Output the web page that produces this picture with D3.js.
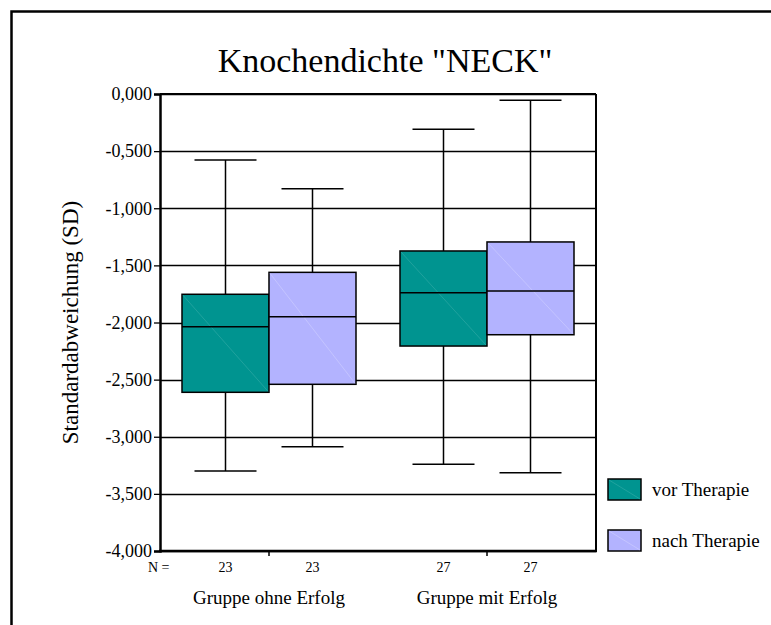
<!DOCTYPE html>
<html>
<head>
<meta charset="utf-8">
<script src="https://cdn.jsdelivr.net/npm/d3@7"></script>
<style>
  body { margin: 0; background: #fff; }
  svg text { font-family: "Liberation Serif", "DejaVu Serif", serif; fill: #000; }
</style>
</head>
<body>
<div id="chart"></div>
<script>
// data
var groups = ["Gruppe ohne Erfolg", "Gruppe mit Erfolg"];
var series = ["vor Therapie", "nach Therapie"];
var counts = [[23, 23], [27, 27]];
// [min, q1, median, q3, max] per group, per series
var boxStats = [
  [[-3.300, -2.611, -2.037, -1.753, -0.578], [-3.087, -2.541, -1.949, -1.561, -0.829]],
  [[-3.241, -2.206, -1.739, -1.374, -0.309], [-3.315, -2.107, -1.724, -1.295, -0.055]]
];
var yTicks = [0, -0.5, -1, -1.5, -2, -2.5, -3, -3.5, -4];
var colors = ["#009490", "#b3b3ff"];
var diagColors = ["#40b0ac", "#d4d4ff"];

(function() {
  var W = 771, H = 625;
  var serif = '"Liberation Serif", "DejaVu Serif", serif';
  var svg = d3.select("#chart").append("svg")
    .attr("width", W).attr("height", H)
    .style("font-family", serif);

  // outer frame (top and left edges only visible)
  svg.append("path")
    .attr("d", "M11.5," + H + "V11.5H" + W)
    .attr("fill", "none").attr("stroke", "#000").attr("stroke-width", 2.5);

  var pL = 160, pR = 596, pT = 94, pB = 551;

  var y = d3.scaleLinear().domain([-4, 0]).range([pB, pT]);
  var x = d3.scaleBand().domain(groups).range([pL, pR]);
  var boxW = 87;

  // title
  svg.append("text")
    .attr("x", 385).attr("y", 72)
    .attr("text-anchor", "middle")
    .style("font-size", "34px")
    .text('Knochendichte "NECK"');

  // gridlines
  svg.append("g").selectAll("line").data(yTicks).join("line")
    .attr("x1", pL).attr("x2", pR)
    .attr("y1", d => Math.round(y(d)) + 0.5).attr("y2", d => Math.round(y(d)) + 0.5)
    .attr("stroke", "#000").attr("stroke-width", 1.3);

  // y axis
  var fmt = d => d3.format(".3f")(d).replace(".", ",").replace("\u2212", "-");
  var yAxis = svg.append("g")
    .attr("transform", "translate(" + pL + ",0)")
    .call(d3.axisLeft(y).tickValues(yTicks).tickSize(6).tickPadding(2).tickFormat(fmt));
  yAxis.attr("font-family", serif);
  yAxis.select(".domain").attr("stroke-width", 2.5);
  yAxis.selectAll(".tick line").attr("stroke-width", 1.3);
  yAxis.selectAll(".tick text").style("font-size", "18px");

  // right and top edges of plot
  svg.append("line")
    .attr("x1", pR).attr("x2", pR).attr("y1", pT).attr("y2", pB)
    .attr("stroke", "#000").attr("stroke-width", 2);
  svg.append("line")
    .attr("x1", pL).attr("x2", pR).attr("y1", pT).attr("y2", pT)
    .attr("stroke", "#000").attr("stroke-width", 2);

  // boxes
  groups.forEach(function(g, gi) {
    var cx = x(g) + x.bandwidth() / 2;
    series.forEach(function(s, si) {
      var st = boxStats[gi][si];
      var x0 = si === 0 ? cx - boxW : cx;
      var mid = x0 + boxW / 2;
      var gg = svg.append("g");
      // whisker
      gg.append("line").attr("x1", mid).attr("x2", mid)
        .attr("y1", y(st[4])).attr("y2", y(st[0]))
        .attr("stroke", "#000").attr("stroke-width", 1.5);
      [st[0], st[4]].forEach(function(v) {
        gg.append("line").attr("x1", mid - 31).attr("x2", mid + 31)
          .attr("y1", y(v)).attr("y2", y(v))
          .attr("stroke", "#000").attr("stroke-width", 1.5);
      });
      gg.append("rect")
        .attr("x", x0).attr("y", y(st[3]))
        .attr("width", boxW).attr("height", y(st[1]) - y(st[3]))
        .attr("fill", colors[si]).attr("stroke", "#000").attr("stroke-width", 1.5);
      gg.append("line")
        .attr("x1", x0 + 1).attr("y1", y(st[3]) + 1)
        .attr("x2", x0 + boxW - 1).attr("y2", y(st[1]) - 1)
        .attr("stroke", diagColors[si]).attr("stroke-width", 0.5);
      gg.append("line")
        .attr("x1", x0).attr("x2", x0 + boxW)
        .attr("y1", y(st[2])).attr("y2", y(st[2]))
        .attr("stroke", "#000").attr("stroke-width", 1.5);
      // N labels
      svg.append("text")
        .attr("x", mid).attr("y", 572)
        .attr("text-anchor", "middle")
        .style("font-size", "14px")
        .text(counts[gi][si]);
    });
    // group label
    svg.append("text")
      .attr("x", cx).attr("y", 604)
      .attr("text-anchor", "middle")
      .style("font-size", "19px")
      .text(g);
    // tick at group centre
    svg.append("line")
      .attr("x1", cx).attr("x2", cx).attr("y1", pB).attr("y2", pB + 5)
      .attr("stroke", "#000").attr("stroke-width", 1.5);
  });

  // bottom axis line
  svg.append("line")
    .attr("x1", pL - 1).attr("x2", pR + 1).attr("y1", pB).attr("y2", pB)
    .attr("stroke", "#000").attr("stroke-width", 2.5);

  svg.append("text")
    .attr("x", 148).attr("y", 572)
    .style("font-size", "14px")
    .text("N =");

  // y label
  svg.append("text")
    .attr("transform", "translate(78," + ((pT + pB) / 2) + ") rotate(-90)")
    .attr("text-anchor", "middle")
    .style("font-size", "23px")
    .text("Standardabweichung (SD)");

  // legend
  var leg = svg.append("g");
  series.forEach(function(s, i) {
    var ly = 479 + i * 51;
    leg.append("rect").attr("x", 608).attr("y", ly).attr("width", 33).attr("height", 21)
      .attr("fill", colors[i]).attr("stroke", "#000").attr("stroke-width", 1.5);
    leg.append("line").attr("x1", 609).attr("y1", ly + 1).attr("x2", 640).attr("y2", ly + 20)
      .attr("stroke", diagColors[i]).attr("stroke-width", 0.5);
    leg.append("text").attr("x", 652).attr("y", ly + 17)
      .style("font-size", "19px").text(s);
  });
})();
</script>
</body>
</html>
